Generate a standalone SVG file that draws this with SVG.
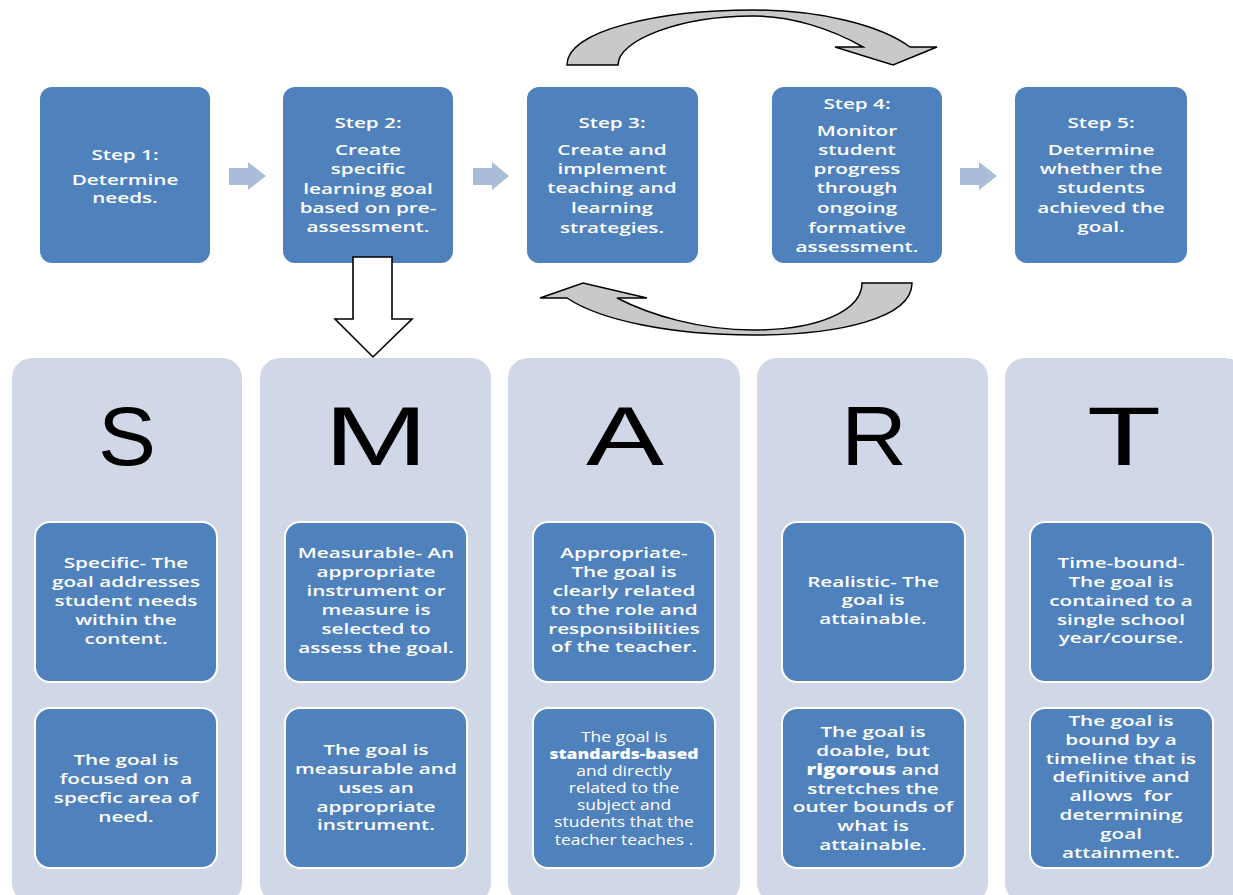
<svg xmlns="http://www.w3.org/2000/svg" width="1233" height="895" viewBox="0 0 1233 895">
<style>
.step{fill:#4f81bd;}
.col{fill:#d0d8e7;}
.ibox{fill:#4f81bd;stroke:#ffffff;stroke-width:2;}
.chev{fill:#a9bcd9;}
.curve{fill:#c9c9c9;stroke:#000;stroke-width:1.5;stroke-linejoin:miter;}
.down{fill:#fff;stroke:#000;stroke-width:1.6;}
.t{font-family:"Open Sans","DejaVu Sans",sans-serif;font-size:15px;font-weight:600;fill:#fff;text-anchor:middle;}
.ts{font-family:"Open Sans","DejaVu Sans",sans-serif;font-size:14px;font-weight:400;fill:#fff;text-anchor:middle;}
.b{font-weight:800;}
.big{font-family:"Liberation Sans",Arial,sans-serif;font-size:84px;fill:#000;text-anchor:middle;}
</style>
<rect width="1233" height="895" fill="#fff"/>

<g id="step1"><rect class="step" x="40" y="87" width="170" height="176" rx="12"/>
<text class="t" transform="translate(125,0) scale(1.38,1)"><tspan x="0" y="160">Step 1:</tspan><tspan x="0" y="185">Determine</tspan><tspan x="0" y="203">needs.</tspan></text></g>
<g id="step2"><rect class="step" x="283" y="87" width="170" height="176" rx="12"/>
<text class="t" transform="translate(368,0) scale(1.38,1)"><tspan x="0" y="128">Step 2:</tspan><tspan x="0" y="155">Create</tspan><tspan x="0" y="174">specific</tspan><tspan x="0" y="194">learning goal</tspan><tspan x="0" y="213">based on pre-</tspan><tspan x="0" y="232">assessment.</tspan></text></g>
<g id="step3"><rect class="step" x="527" y="87" width="171" height="176" rx="12"/>
<text class="t" transform="translate(612,0) scale(1.38,1)"><tspan x="0" y="128">Step 3:</tspan><tspan x="0" y="155">Create and</tspan><tspan x="0" y="174">implement</tspan><tspan x="0" y="193">teaching and</tspan><tspan x="0" y="213">learning</tspan><tspan x="0" y="233">strategies.</tspan></text></g>
<g id="step4"><rect class="step" x="772" y="87" width="170" height="176" rx="12"/>
<text class="t" transform="translate(857,0) scale(1.38,1)"><tspan x="0" y="109">Step 4:</tspan><tspan x="0" y="136">Monitor</tspan><tspan x="0" y="155">student</tspan><tspan x="0" y="174">progress</tspan><tspan x="0" y="193">through</tspan><tspan x="0" y="213">ongoing</tspan><tspan x="0" y="233">formative</tspan><tspan x="0" y="252">assessment.</tspan></text></g>
<g id="step5"><rect class="step" x="1015" y="87" width="172" height="176" rx="12"/>
<text class="t" transform="translate(1101,0) scale(1.38,1)"><tspan x="0" y="128">Step 5:</tspan><tspan x="0" y="155">Determine</tspan><tspan x="0" y="174">whether the</tspan><tspan x="0" y="193">students</tspan><tspan x="0" y="213">achieved the</tspan><tspan x="0" y="232">goal.</tspan></text></g>

<g id="colS"><rect class="col" x="12" y="358" width="230" height="545" rx="20"/>
<text class="big" x="127" y="465" textLength="58" lengthAdjust="spacingAndGlyphs">S</text>
<rect class="ibox" x="35" y="522" width="182" height="160" rx="15"/>
<text class="t" transform="translate(126,0) scale(1.38,1)"><tspan x="0" y="568">Specific- The</tspan><tspan x="0" y="587">goal addresses</tspan><tspan x="0" y="606">student needs</tspan><tspan x="0" y="625">within the</tspan><tspan x="0" y="644">content.</tspan></text>
<rect class="ibox" x="35" y="708" width="182" height="160" rx="15"/>
<text class="t" transform="translate(126,0) scale(1.38,1)"><tspan x="0" y="765">The goal is</tspan><tspan x="0" y="784" xml:space="preserve">focused on  a</tspan><tspan x="0" y="803">specfic area of</tspan><tspan x="0" y="822">need.</tspan></text></g>

<g id="colM"><rect class="col" x="260" y="358" width="231" height="545" rx="20"/>
<text class="big" x="376" y="465" textLength="104" lengthAdjust="spacingAndGlyphs">M</text>
<rect class="ibox" x="285" y="522" width="182" height="160" rx="15"/>
<text class="t" transform="translate(376,0) scale(1.38,1)"><tspan x="0" y="558">Measurable- An</tspan><tspan x="0" y="577">appropriate</tspan><tspan x="0" y="596">instrument or</tspan><tspan x="0" y="615">measure is</tspan><tspan x="0" y="634">selected to</tspan><tspan x="0" y="653">assess the goal.</tspan></text>
<rect class="ibox" x="285" y="708" width="182" height="160" rx="15"/>
<text class="t" transform="translate(376,0) scale(1.38,1)"><tspan x="0" y="755">The goal is</tspan><tspan x="0" y="774">measurable and</tspan><tspan x="0" y="793">uses an</tspan><tspan x="0" y="812">appropriate</tspan><tspan x="0" y="830">instrument.</tspan></text></g>

<g id="colA"><rect class="col" x="508" y="358" width="232" height="545" rx="20"/>
<text class="big" x="625" y="465" textLength="78" lengthAdjust="spacingAndGlyphs">A</text>
<rect class="ibox" x="533" y="522" width="182" height="160" rx="15"/>
<text class="t" transform="translate(624,0) scale(1.38,1)"><tspan x="0" y="558">Appropriate-</tspan><tspan x="0" y="577">The goal is</tspan><tspan x="0" y="596">clearly related</tspan><tspan x="0" y="615">to the role and</tspan><tspan x="0" y="634">responsibilities</tspan><tspan x="0" y="652">of the teacher.</tspan></text>
<rect class="ibox" x="533" y="708" width="182" height="160" rx="15"/>
<text class="ts" transform="translate(624,0) scale(1.25,1)"><tspan x="0" y="742">The goal is</tspan><tspan x="0" y="759" class="b">standards-based</tspan><tspan x="0" y="776">and directly</tspan><tspan x="0" y="793">related to the</tspan><tspan x="0" y="810">subject and</tspan><tspan x="0" y="827">students that the</tspan><tspan x="0" y="845">teacher teaches .</tspan></text></g>

<g id="colR"><rect class="col" x="757" y="358" width="231" height="545" rx="20"/>
<text class="big" x="874" y="465" textLength="66" lengthAdjust="spacingAndGlyphs">R</text>
<rect class="ibox" x="782" y="522" width="183" height="160" rx="15"/>
<text class="t" transform="translate(873,0) scale(1.38,1)"><tspan x="0" y="587">Realistic- The</tspan><tspan x="0" y="605">goal is</tspan><tspan x="0" y="624">attainable.</tspan></text>
<rect class="ibox" x="782" y="708" width="183" height="160" rx="15"/>
<text class="t" transform="translate(873,0) scale(1.38,1)"><tspan x="0" y="737">The goal is</tspan><tspan x="0" y="756">doable, but</tspan><tspan x="0" y="775"><tspan class="b">rigorous</tspan> and</tspan><tspan x="0" y="794">stretches the</tspan><tspan x="0" y="812">outer bounds of</tspan><tspan x="0" y="831">what is</tspan><tspan x="0" y="850">attainable.</tspan></text></g>

<g id="colT"><rect class="col" x="1005" y="358" width="240" height="545" rx="20"/>
<text class="big" x="1124" y="465" textLength="74" lengthAdjust="spacingAndGlyphs">T</text>
<rect class="ibox" x="1030" y="522" width="183" height="160" rx="15"/>
<text class="t" transform="translate(1121,0) scale(1.38,1)"><tspan x="0" y="568">Time-bound-</tspan><tspan x="0" y="587">The goal is</tspan><tspan x="0" y="606">contained to a</tspan><tspan x="0" y="625">single school</tspan><tspan x="0" y="643">year/course.</tspan></text>
<rect class="ibox" x="1030" y="708" width="183" height="160" rx="15"/>
<text class="t" transform="translate(1121,0) scale(1.38,1)"><tspan x="0" y="726">The goal is</tspan><tspan x="0" y="745">bound by a</tspan><tspan x="0" y="764">timeline that is</tspan><tspan x="0" y="782">definitive and</tspan><tspan x="0" y="801" xml:space="preserve">allows  for</tspan><tspan x="0" y="820">determining</tspan><tspan x="0" y="839">goal</tspan><tspan x="0" y="858">attainment.</tspan></text></g>

<g id="connectors">
<polygon class="chev" points="229,168 248,168 248,162 266,176 248,190 248,185 229,185"/>
<polygon class="chev" points="473,168 492,168 492,162 509,176 492,190 492,185 473,185"/>
<polygon class="chev" points="960,168 979,168 979,162 997,176 979,190 979,185 960,185"/>
<path class="curve" d="M567,65 C567,30 660,10 753,10 C820,10 880,25 910,47 L937,47 L893,65 L835,47 L863,47 C830,28 790,16 753,16 C680,16 618,40 618,65 Z"/>
<path class="curve" d="M912,283 C912,318 840,335 753,335 C670,335 600,320 567,298 L540,298 L583,283 L647,298 L617,298 C650,315 700,330 753,330 C820,330 862,310 862,283 Z"/>
<path class="down" d="M353,257 L392,257 L392,319 L412,319 L373,357 L335,319 L353,319 Z"/>
</g>
</svg>
